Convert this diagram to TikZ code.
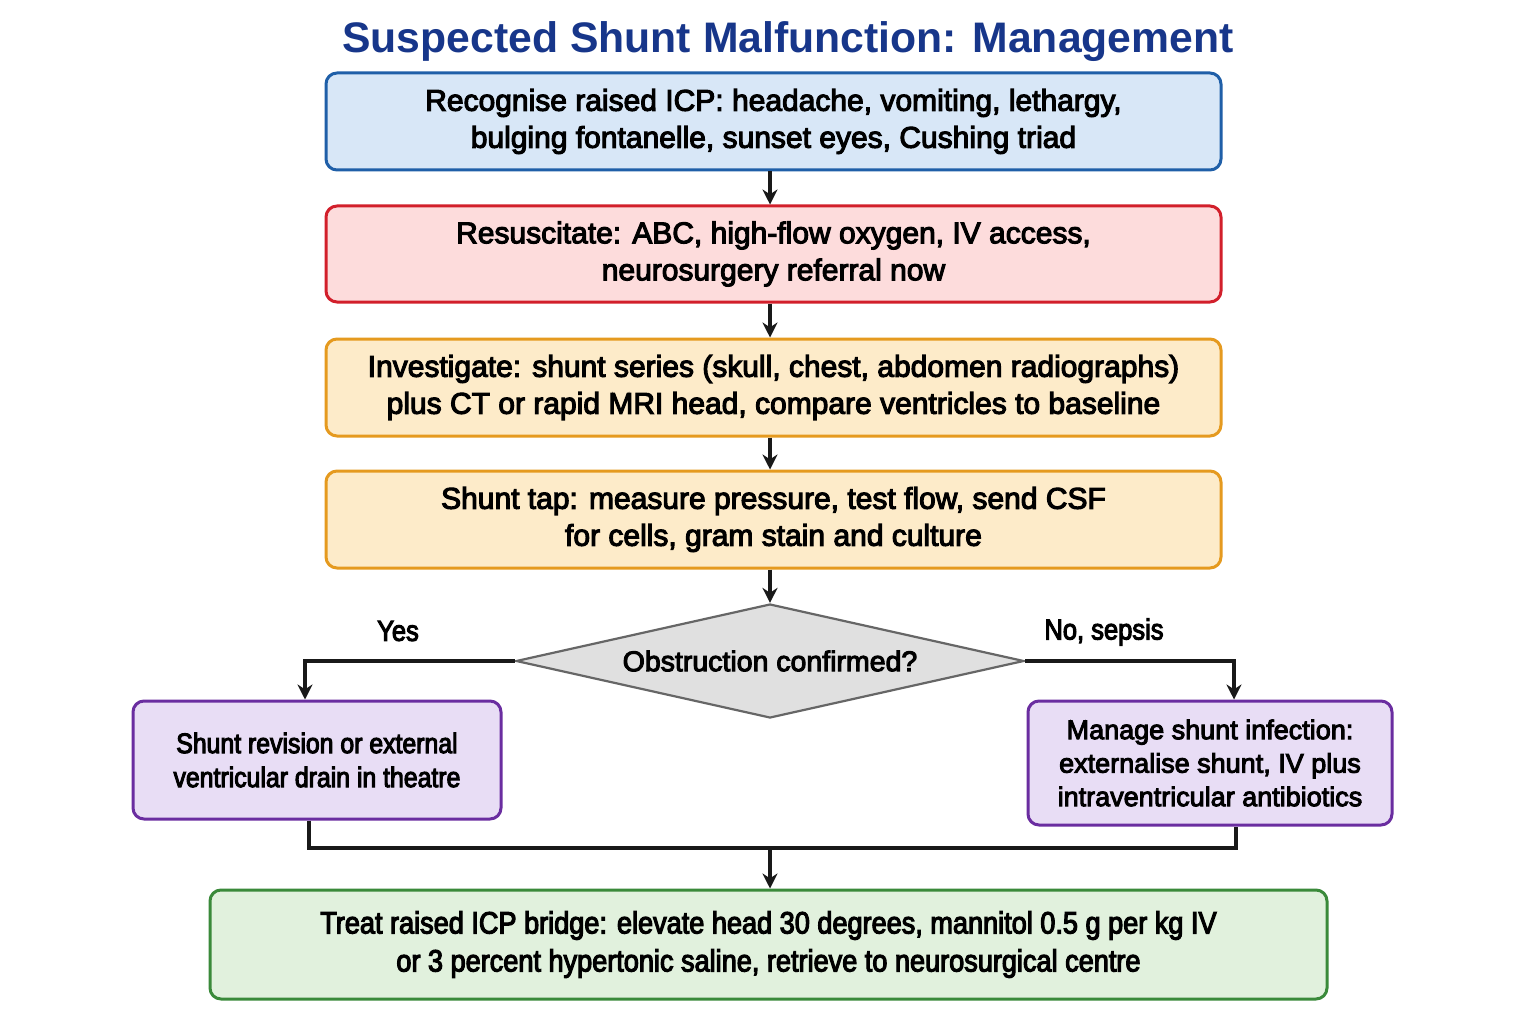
\documentclass[tikz,border=0pt]{standalone}
\usepackage{fontspec}
\setmainfont{Liberation Sans}
\newfontfamily\medfont{Liberation Sans}[FakeBold=3.6]
\newfontfamily\condfont{Liberation Sans}[FakeBold=3.6,FakeStretch=0.88]
\usetikzlibrary{shapes.geometric,arrows.meta}
\definecolor{bluefill}{HTML}{D8E7F7}
\definecolor{blueline}{HTML}{1F5FA8}
\definecolor{redfill}{HTML}{FDDCDC}
\definecolor{redline}{HTML}{D21F2B}
\definecolor{orfill}{HTML}{FDEBC9}
\definecolor{orline}{HTML}{E59A1F}
\definecolor{purfill}{HTML}{E8DDF5}
\definecolor{purline}{HTML}{6A2DA0}
\definecolor{grfill}{HTML}{E1F1DD}
\definecolor{grline}{HTML}{3A8A3A}
\definecolor{diafill}{HTML}{E0E0E0}
\definecolor{dialine}{HTML}{666666}
\definecolor{titleblue}{HTML}{17368A}
\tikzset{
  box/.style={draw, line width=3pt, rounded corners=11pt, align=center, inner sep=0pt,
    font=\medfont\fontsize{30}{37}\selectfont, text=black},
  cbox/.style={box, font=\condfont\fontsize{28.2}{34}\selectfont},
  conn/.style={line width=3.3pt, draw=black!90},
  arr/.style={conn, -{Stealth[length=15pt,width=15pt]}},
  lbl/.style={font=\condfont\fontsize{29}{30}\selectfont, inner sep=0pt}
}
\begin{document}
\begin{tikzpicture}[x=1pt,y=-1pt]
\useasboundingbox (0,0) rectangle (1536,1024);
\fill[white] (0,0) rectangle (1536,1024);

\node[font=\bfseries\fontsize{42.7}{48}\selectfont, text=titleblue, inner sep=0pt] (title) at (788,42) {Suspected Shunt Malfunction: Management};

\node[box, fill=bluefill, draw=blueline, minimum width=895pt, minimum height=97pt] (b1) at (773.5,121.5)
  {Recognise raised ICP: headache, vomiting, lethargy,\\bulging fontanelle, sunset eyes, Cushing triad};
\node[box, fill=redfill, draw=redline, minimum width=895pt, minimum height=96pt] (b2) at (773.5,254)
  {Resuscitate: ABC, high-flow oxygen, IV access,\\neurosurgery referral now};
\node[box, fill=orfill, draw=orline, minimum width=895pt, minimum height=97pt] (b3) at (773.5,387.5)
  {Investigate: shunt series (skull, chest, abdomen radiographs)\\plus CT or rapid MRI head, compare ventricles to baseline};
\node[box, fill=orfill, draw=orline, minimum width=895pt, minimum height=97pt] (b4) at (773.5,519.5)
  {Shunt tap: measure pressure, test flow, send CSF\\for cells, gram stain and culture};

\node[diamond, aspect=4.46, draw=dialine, fill=diafill, line width=2.2pt, minimum width=508pt, minimum height=114pt, inner sep=0pt,
  font=\medfont\fontsize{28.5}{30}\selectfont] (d) at (770,661) {Obstruction confirmed?};

\node[cbox, fill=purfill, draw=purline, minimum width=368pt, minimum height=118pt] (l) at (317,760)
  {Shunt revision or external\\ventricular drain in theatre};
\node[box, fill=purfill, draw=purline, minimum width=364pt, minimum height=124pt, font=\medfont\fontsize{27}{33.5}\selectfont] (r) at (1210,763)
  {Manage shunt infection:\\externalise shunt, IV plus\\intraventricular antibiotics};

\node[cbox, fill=grfill, draw=grline, minimum width=1117pt, minimum height=109pt, font=\condfont\fontsize{30.8}{38}\selectfont] (g) at (768.5,944.5)
  {Treat raised ICP bridge: elevate head 30 degrees, mannitol 0.5 g per kg IV\\or 3 percent hypertonic saline, retrieve to neurosurgical centre};

\draw[arr] (b1.south -| 770,0) -- (b2.north -| 770,0);
\draw[arr] (b2.south -| 770,0) -- (b3.north -| 770,0);
\draw[arr] (b3.south -| 770,0) -- (b4.north -| 770,0);
\draw[arr] (b4.south -| 770,0) -- (d.north);

\draw[arr] (d.west) -| (l.north -| 305,0);
\draw[arr] (d.east) -| (r.north -| 1234,0);
\node[lbl] (yes) at (398,631) {Yes};
\node[lbl] (no) at (1104,632) {No, sepsis};

\coordinate (m) at (770,848);
\draw[conn] (l.south -| 309,0) |- (m) -| (r.south -| 1236,0);
\draw[arr] (m) -- (g.north -| 770,0);
\end{tikzpicture}
\end{document}
